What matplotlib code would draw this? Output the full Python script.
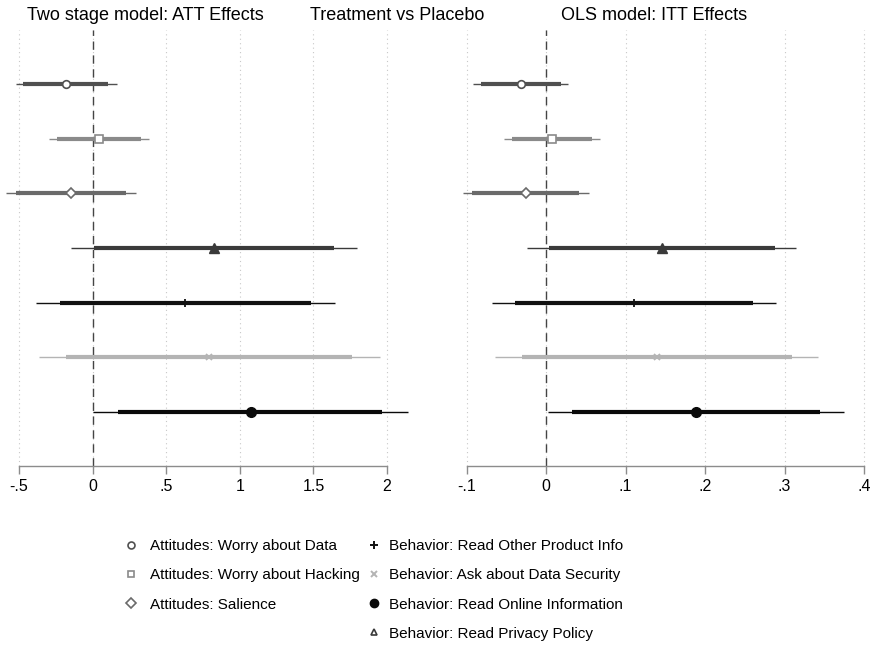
import matplotlib
matplotlib.use("Agg")
import matplotlib.pyplot as plt
from matplotlib.lines import Line2D

plt.rcParams['font.family'] = ['Liberation Sans', 'DejaVu Sans']

labels = ["Attitudes: Worry about Data", "Attitudes: Worry about Hacking",
          "Attitudes: Salience", "Behavior: Read Privacy Policy",
          "Behavior: Read Other Product Info", "Behavior: Ask about Data Security",
          "Behavior: Read Online Information"]
markers = ["o", "s", "D", "^", "+", "x", "o"]
filled = [False, False, False, True, True, True, True]
colors = ["#505050", "#8a8a8a", "#6a6a6a", "#3a3a3a", "#111111", "#b4b4b4", "#0a0a0a"]
marker_sizes = [5.5, 5.5, 5.5, 6.5, 6, 4, 7]

# two stage model (ATT)
att_est = [-0.181, 0.041, -0.147, 0.826, 0.629, 0.792, 1.073]
att_lo90 = [-0.471, -0.240, -0.521, 0.011, -0.222, -0.181, 0.176]
att_hi90 = [0.106, 0.326, 0.226, 1.643, 1.482, 1.765, 1.969]
att_lo95 = [-0.523, -0.297, -0.591, -0.145, -0.387, -0.367, 0.000]
att_hi95 = [0.163, 0.380, 0.296, 1.799, 1.645, 1.950, 2.143]

# OLS model (ITT)
itt_est = [-0.0319, 0.0075, -0.0256, 0.1455, 0.1107, 0.1396, 0.1887]
itt_lo90 = [-0.0818, -0.0428, -0.0931, 0.0034, -0.0386, -0.0306, 0.0331]
itt_hi90 = [0.0189, 0.0579, 0.0411, 0.288, 0.260, 0.3099, 0.3447]
itt_lo95 = [-0.0914, -0.0528, -0.105, -0.0243, -0.0675, -0.0642, 0.0025]
itt_hi95 = [0.028, 0.0675, 0.0537, 0.315, 0.289, 0.3426, 0.375]

att_ticks = [-0.5, 0, 0.5, 1, 1.5, 2]
att_ticklabels = ["-.5", "0", ".5", "1", "1.5", "2"]
itt_ticks = [-0.1, 0, 0.1, 0.2, 0.3, 0.4]
itt_ticklabels = ["-.1", "0", ".1", ".2", ".3", ".4"]

fig = plt.figure(figsize=(8.72, 6.45), dpi=100)
ax1 = fig.add_axes([0.0, 0.2775, 0.487, 0.676])
ax2 = fig.add_axes([0.5218, 0.2775, 0.4782, 0.676])


def draw_panel(ax, est, lo90, hi90, lo95, hi95, ticks, ticklabels, xlim):
    for t in ticks:
        ax.axvline(t, color="#c8c8c8", lw=0.8, ls=(0, (1, 3)), zorder=0)
    ax.axvline(0, color="#444444", lw=1.0, ls=(0, (6, 4)), zorder=1)
    for i in range(len(est)):
        y = i + 1
        c = colors[i]
        ms = marker_sizes[i]
        ax.hlines(y, lo95[i], hi95[i], color=c, lw=1.0, zorder=2)
        ax.hlines(y, lo90[i], hi90[i], color=c, lw=3.0, zorder=3)
        if markers[i] in ("+", "x"):
            ax.plot(est[i], y, marker=markers[i], color=c, ms=ms, mew=1.3, zorder=4)
        elif filled[i]:
            ax.plot(est[i], y, marker=markers[i], color=c, ms=ms, zorder=4)
        else:
            ax.plot(est[i], y, marker=markers[i], mfc="white", mec=c, ms=ms,
                    mew=1.2, zorder=4)
    ax.set_xlim(*xlim)
    ax.set_ylim(8, 0)
    ax.set_yticks([])
    for s in ["left", "right", "top"]:
        ax.spines[s].set_visible(False)
    ax.spines["bottom"].set_color("#8c8c8c")
    ax.spines["bottom"].set_linewidth(1.0)
    ax.spines["bottom"].set_bounds(ticks[0], ticks[-1])
    ax.set_xticks(ticks)
    ax.set_xticklabels(ticklabels)
    ax.tick_params(axis="x", colors="#8c8c8c", length=6, width=1.0,
                   labelsize=11.5, labelcolor="black", pad=3)
    ax.patch.set_alpha(0)


draw_panel(ax1, att_est, att_lo90, att_hi90, att_lo95, att_hi95,
           att_ticks, att_ticklabels, (-0.629, 2.256))
draw_panel(ax2, itt_est, itt_lo90, itt_hi90, itt_lo95, itt_hi95,
           itt_ticks, itt_ticklabels, (-0.1145, 0.410))

fig.text(145 / 872, 1 - 16 / 645, "Two stage model: ATT Effects", ha="center",
         va="center", fontsize=13)
fig.text(397 / 872, 1 - 16 / 645, "Treatment vs Placebo", ha="center",
         va="center", fontsize=13)
fig.text(654 / 872, 1 - 16 / 645, "OLS model: ITT Effects", ha="center",
         va="center", fontsize=13)


def handle(i):
    m = markers[i]
    c = colors[i]
    if m in ("+", "x"):
        return Line2D([], [], ls="none", marker=m, color=c,
                      ms=6 if m == "+" else 4, mew=1.4)
    if filled[i] and m != "^":
        return Line2D([], [], ls="none", marker=m, color=c, ms=6)
    return Line2D([], [], ls="none", marker=m, mfc="white", mec=c, ms=5, mew=1.2)


left_idx = [0, 1, 2]
right_idx = [4, 5, 6, 3]
leg_kw = dict(loc="upper left", frameon=False, fontsize=11, handlelength=0.8,
              handletextpad=0.6, labelspacing=1.0, borderaxespad=0,
              borderpad=0)
fig.legend([handle(i) for i in left_idx], [labels[i] for i in left_idx],
           bbox_to_anchor=(125 / 872, 1 - 539 / 645),
           **dict(leg_kw, handletextpad=0.85))
fig.legend([handle(i) for i in right_idx], [labels[i] for i in right_idx],
           bbox_to_anchor=(368 / 872, 1 - 539 / 645), **leg_kw)

fig.savefig("out.png", dpi=100)
